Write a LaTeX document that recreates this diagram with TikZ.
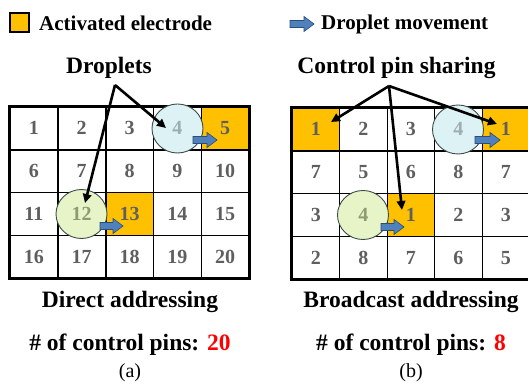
\documentclass[tikz,border=0pt]{standalone}
\usepackage{fontspec}
\setmainfont{Liberation Serif}
\usetikzlibrary{arrows.meta,shapes.geometric,backgrounds}
\definecolor{actel}{HTML}{FFC000}
\definecolor{numgray}{HTML}{5F5F5F}
\definecolor{cyanfill}{HTML}{DCF2F4}
\definecolor{greenfill}{HTML}{E6F4C8}
\definecolor{cyannum}{HTML}{9DADB0}
\definecolor{greennum}{HTML}{8C9B72}
\definecolor{dropedge}{HTML}{3E4A48}
\definecolor{bluearr}{HTML}{4F81BD}
\definecolor{bluearredge}{HTML}{2C4D75}
\newcommand{\blockarr}[3]{%
  \filldraw[fill=bluearr,draw=bluearredge,line width=0.6pt]
    (#1,#2) ++(0,-3.5) -- ++({#3-10},0) -- ++(0,-4) -- ++(10,7.5) -- ++(-10,7.5) -- ++(0,-4) -- ++({-(#3-10)},0) -- cycle;}
\begin{document}
\begin{tikzpicture}[x=1pt,y=-1pt,
  cell/.style={minimum width=#1,minimum height=42.75pt,inner sep=0pt,
     font=\fontsize{20}{24}\selectfont\bfseries,text=numgray},
  gridline/.style={draw=black,line width=1.4pt},
  cellnum/.style={inner sep=0pt,font=\fontsize{20}{24}\selectfont\bfseries},
  drop/.style={ellipse,draw=dropedge,line width=0.9pt,minimum width=51pt,minimum height=49pt,inner sep=0pt},
  ptr/.style={line width=2.6pt,-{Triangle[length=9pt,width=8.5pt]}},
  lbl/.style={inner sep=0pt,font=\fontsize{23.5}{28}\selectfont\bfseries},
  leg/.style={inner sep=0pt,font=\fontsize{21}{25}\selectfont\bfseries},
  sub/.style={inner sep=0pt,font=\fontsize{20}{24}\selectfont}]
\useasboundingbox (0,0) rectangle (528,385);

% legend
\node[draw=black,line width=2.3pt,fill=actel,minimum size=19pt,inner sep=0pt] (legsq) at (19.5,22.5) {};
\node[leg,anchor=base west] (legact) at (39,30.5) {Activated electrode};
\blockarr{290}{24}{24}
\node[leg,anchor=base west] (legmov) at (321,30) {Droplet movement};

% left grid
\foreach \r in {1,...,4}{
  \foreach \c in {1,...,5}{
    \pgfmathtruncatemacro\n{(\r-1)*5+\c}
    \node[cell=47.8pt] (L\r\c) at ({10+(\c-0.5)*47.8},{107+(\r-0.5)*42.75}) {\n};
  }}
\begin{scope}[on background layer]
  \fill[actel] (L15.north west) rectangle (L15.south east);
  \fill[actel] (L33.north west) rectangle (L33.south east);
\end{scope}
\foreach \c in {1,...,4}{\draw[gridline] (L1\c.north east) -- (L4\c.south east);}
\foreach \r in {1,...,3}{\draw[gridline] (L\r1.south west) -- (L\r5.south east);}
\draw[line width=3.2pt] (L11.north west) rectangle (L45.south east);

% right grid
\foreach \r/\row in {1/{1,2,3,4,1},2/{7,5,6,8,7},3/{3,4,1,2,3},4/{2,8,7,6,5}}{
  \foreach \v [count=\c] in \row{
    \node[cell=47.5pt] (R\r\c) at ({292+(\c-0.5)*47.5},{108+(\r-0.5)*42.75}) {\v};
  }}
\begin{scope}[on background layer]
  \fill[actel] (R11.north west) rectangle (R11.south east);
  \fill[actel] (R15.north west) rectangle (R15.south east);
  \fill[actel] (R33.north west) rectangle (R33.south east);
\end{scope}
\foreach \c in {1,...,4}{\draw[gridline] (R1\c.north east) -- (R4\c.south east);}
\foreach \r in {1,...,3}{\draw[gridline] (R\r1.south west) -- (R\r5.south east);}
\draw[line width=3.2pt] (R11.north west) rectangle (R45.south east);

% droplets
\node[drop,fill=cyanfill] (dLa) at (177.5,128.5) {};
\node[cellnum,text=cyannum] (dLan) at (L14) {4};
\node[drop,fill=greenfill] (dLb) at (81.5,214) {};
\node[cellnum,text=greennum] (dLbn) at (L32) {12};
\node[drop,fill=cyanfill] (dRa) at (458,129.5) {};
\node[cellnum,text=cyannum] (dRan) at (R14) {4};
\node[drop,fill=greenfill] (dRb) at (363,215) {};
\node[cellnum,text=greennum] (dRbn) at (R32) {4};

% movement arrows
\blockarr{193}{140}{24}
\blockarr{100}{226}{23}
\blockarr{475}{140}{25}
\blockarr{381}{227}{23}

% labels and pointers
\node[lbl,anchor=base] (lblL) at (109,74) {Droplets};
\node[lbl,anchor=base] (lblR) at (396.5,74) {Control pin sharing};
\coordinate (apexL) at (115,85);
\coordinate (tipL1) at (166,128);
\coordinate (tipL2) at (85,203);
\draw[ptr] (apexL) -- (tipL1);
\draw[ptr] (apexL) -- (tipL2);
\coordinate (apexR) at (389,86);
\coordinate (tipR1) at (331,122);
\coordinate (tipR2) at (497,124);
\coordinate (tipR3) at (402,210);
\draw[ptr] (apexR) -- (tipR1);
\draw[ptr] (apexR) -- (tipR2);
\draw[ptr] (apexR) -- (tipR3);

% captions
\node[lbl,anchor=base] (capLa) at (130,307.5) {Direct addressing};
\node[lbl,anchor=base] (capLb) at (130,350) {\# of control pins: \textcolor{red}{20}};
\node[sub,anchor=base] (capLc) at (130,377) {(a)};
\node[lbl,anchor=base] (capRa) at (411,307.5) {Broadcast addressing};
\node[lbl,anchor=base] (capRb) at (411,350) {\# of control pins: \textcolor{red}{8}};
\node[sub,anchor=base] (capRc) at (411,377) {(b)};
\end{tikzpicture}
\end{document}
